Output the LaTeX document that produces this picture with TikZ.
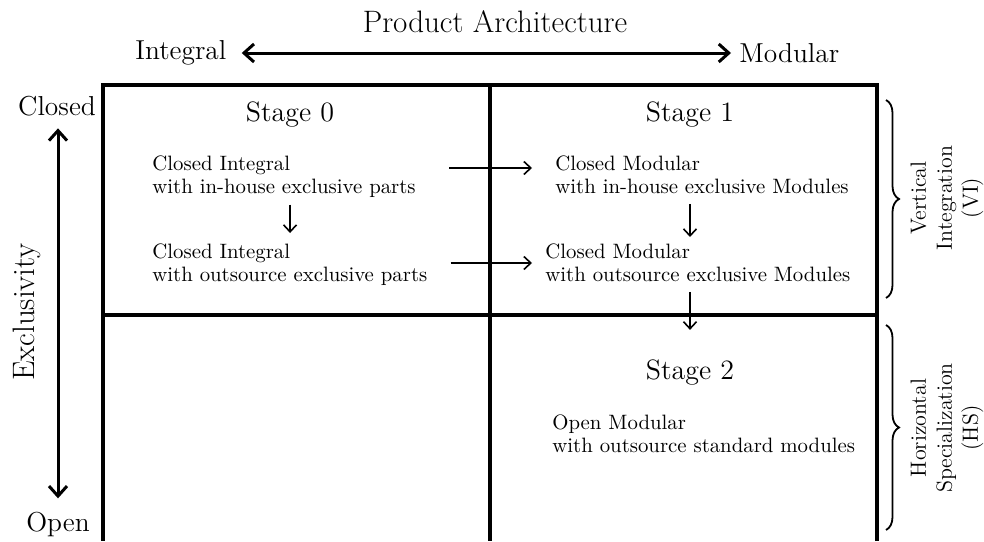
\documentclass[tikz,border=0pt]{standalone}
\usepackage{tikz}
\usetikzlibrary{arrows.meta,decorations.pathreplacing}

\tikzset{
	cell/.style={font=\fontsize{10.4}{11.6}\selectfont, align=left, inner sep=0pt, anchor=north west},
	stage/.style={font=\fontsize{14}{16}\selectfont, inner sep=0pt},
	axislabel/.style={font=\fontsize{13.7}{16}\selectfont, inner sep=0pt},
	flow/.style={-{Straight Barb[length=3.5pt,width=6.5pt]}, line width=0.8pt},
	axis/.style={{Straight Barb[length=5pt,width=9pt]}-{Straight Barb[length=5pt,width=9pt]}, line width=1.5pt},
	bracket/.style={decorate, decoration={brace, amplitude=6.5pt}, line width=0.9pt},
	sidelabel/.style={font=\fontsize{11}{13}\selectfont, align=center, rotate=90, inner sep=0pt}
}

\begin{document}
\begin{tikzpicture}[x=0.5pt,y=-0.5pt]
	\useasboundingbox (0,0) rectangle (984,541);
	% Grid %
	\draw [line width=1.6pt] (877,541) -- (877,85) -- (103,85) -- (103,541);
	\draw [line width=1.6pt] (490,85) -- (490,541);
	\draw [line width=1.6pt] (103,315) -- (877,315);
	% Product Architecture axis %
	\node (prodarch) [font=\fontsize{15.5}{18}\selectfont, inner sep=0pt] at (495,22) {Product Architecture};
	\node (integral) [axislabel, anchor=west] at (135,53) {Integral};
	\node (modular) [axislabel, anchor=west] at (739,53) {Modular};
	\draw [axis, shorten <=7.5pt, shorten >=4pt] (integral.east) -- (modular.west);
	% Exclusivity axis %
	\node (closed) [axislabel] at (57,106) {Closed};
	\node (open) [axislabel] at (58,525) {Open};
	\node (exclusivity) [font=\fontsize{15.5}{18}\selectfont, inner sep=0pt, rotate=90] at (27,312) {Exclusivity};
	\draw [axis, shorten <=6pt, shorten >=7pt] (open |- closed.south) -- (open.north);
	% Stages %
	\node (stage0) [stage] at (290,115) {Stage 0};
	\node (stage1) [stage] at (690,115) {Stage 1};
	\node (stage2) [stage] at (690,373) {Stage 2};
	\node (ci1) [cell] at (152,155) {Closed Integral\\with in-house exclusive parts};
	\node (ci2) [cell] at (152,243) {Closed Integral\\with outsource exclusive parts};
	\node (cm1) [cell] at (555,155) {Closed Modular\\with in-house exclusive Modules};
	\node (cm2) [cell] at (545,243) {Closed Modular\\with outsource exclusive Modules};
	\node (om) [cell] at (552,414) {Open Modular\\with outsource standard modules};
	% Flows %
	\draw [flow, shorten <=3.5pt, shorten >=5pt] ([xshift=3]ci1.south) -- ([xshift=3]ci1.south |- ci2.north);
	\draw [flow, shorten <=16.5pt, shorten >=11.5pt] (ci1.east |- 0,168) -- (cm1.west |- 0,168);
	\draw [flow, shorten <=11.5pt, shorten >=6.5pt] (ci2.east |- 0,263) -- (cm2.west |- 0,263);
	\draw [flow, shorten <=5pt, shorten >=3pt] (cm1.south -| stage1) -- (cm2.north -| stage1);
	\draw [flow, shorten <=5pt, shorten >=15pt] (cm2.south -| stage2) -- (stage2.north);
	% Braces %
	\draw [bracket] (886,100) -- (886,298);
	\draw [bracket] (886,325) -- (886,530);
	\node (vi) [sidelabel] at (947,198) {Vertical\\Integration\\(VI)};
	\node (hs) [sidelabel] at (947,428) {Horizontal\\Specialization\\(HS)};
\end{tikzpicture}
\end{document}
